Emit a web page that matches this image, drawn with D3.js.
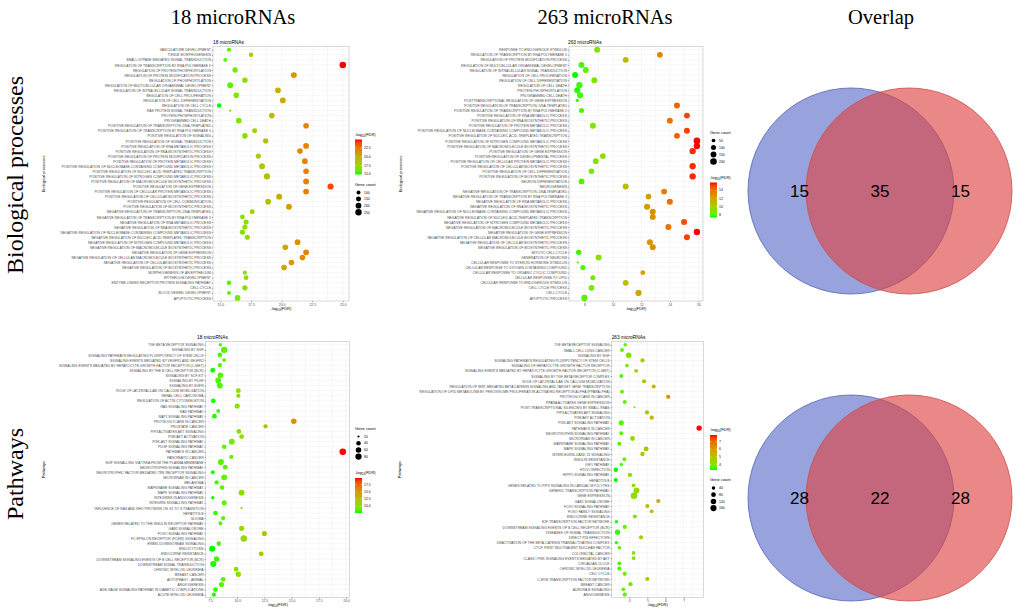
<!DOCTYPE html>
<html>
<head>
<meta charset="utf-8">
<script src="https://cdn.jsdelivr.net/npm/d3@7"></script>
<style>
  body { margin: 0; background: #fff; }
  svg { display: block; }
</style>
</head>
<body>
<svg id="chart" width="1020" height="614"></svg>
<script>
// ---- biological processes, 18 microRNAs ----
const bp18Cats = ["VASCULATURE DEVELOPMENT","TISSUE MORPHOGENESIS","SMALL GTPASE MEDIATED SIGNAL TRANSDUCTION","REGULATION OF TRANSCRIPTION BY RNA POLYMERASE II","REGULATION OF PROTEIN PHOSPHORYLATION","REGULATION OF PROTEIN MODIFICATION PROCESS","REGULATION OF PHOSPHORYLATION","REGULATION OF MULTICELLULAR ORGANISMAL DEVELOPMENT","REGULATION OF INTRACELLULAR SIGNAL TRANSDUCTION","REGULATION OF CELL PROLIFERATION","REGULATION OF CELL DIFFERENTIATION","REGULATION OF CELL CYCLE","RAS PROTEIN SIGNAL TRANSDUCTION","PROTEIN PHOSPHORYLATION","PROGRAMMED CELL DEATH","POSITIVE REGULATION OF TRANSCRIPTION, DNA-TEMPLATED","POSITIVE REGULATION OF TRANSCRIPTION BY RNA POLYMERASE II","POSITIVE REGULATION OF SIGNALING","POSITIVE REGULATION OF SIGNAL TRANSDUCTION","POSITIVE REGULATION OF RNA METABOLIC PROCESS","POSITIVE REGULATION OF RNA BIOSYNTHETIC PROCESS","POSITIVE REGULATION OF PROTEIN MODIFICATION PROCESS","POSITIVE REGULATION OF PROTEIN METABOLIC PROCESS","POSITIVE REGULATION OF NUCLEOBASE-CONTAINING COMPOUND METABOLIC PROCESS","POSITIVE REGULATION OF NUCLEIC ACID-TEMPLATED TRANSCRIPTION","POSITIVE REGULATION OF NITROGEN COMPOUND METABOLIC PROCESS","POSITIVE REGULATION OF MACROMOLECULE BIOSYNTHETIC PROCESS","POSITIVE REGULATION OF GENE EXPRESSION","POSITIVE REGULATION OF CELLULAR PROTEIN METABOLIC PROCESS","POSITIVE REGULATION OF CELLULAR BIOSYNTHETIC PROCESS","POSITIVE REGULATION OF CELL COMMUNICATION","POSITIVE REGULATION OF BIOSYNTHETIC PROCESS","NEGATIVE REGULATION OF TRANSCRIPTION, DNA-TEMPLATED","NEGATIVE REGULATION OF TRANSCRIPTION BY RNA POLYMERASE II","NEGATIVE REGULATION OF RNA METABOLIC PROCESS","NEGATIVE REGULATION OF RNA BIOSYNTHETIC PROCESS","NEGATIVE REGULATION OF NUCLEOBASE-CONTAINING COMPOUND METABOLIC PROCESS","NEGATIVE REGULATION OF NUCLEIC ACID-TEMPLATED TRANSCRIPTION","NEGATIVE REGULATION OF NITROGEN COMPOUND METABOLIC PROCESS","NEGATIVE REGULATION OF MACROMOLECULE BIOSYNTHETIC PROCESS","NEGATIVE REGULATION OF GENE EXPRESSION","NEGATIVE REGULATION OF CELLULAR MACROMOLECULE BIOSYNTHETIC PROCESS","NEGATIVE REGULATION OF CELLULAR BIOSYNTHETIC PROCESS","NEGATIVE REGULATION OF BIOSYNTHETIC PROCESS","MORPHOGENESIS OF AN EPITHELIUM","EPITHELIUM DEVELOPMENT","ENZYME LINKED RECEPTOR PROTEIN SIGNALING PATHWAY","CELL CYCLE","BLOOD VESSEL DEVELOPMENT","APOPTOTIC PROCESS"];
const bp18Fdr = [15.7,17.5,15.4,25.0,16.2,21.0,17.0,15.8,19.7,16.3,20.1,14.9,15.8,19.2,16.5,22.0,17.8,17.0,18.7,22.0,21.5,18.1,21.9,18.4,22.0,18.8,22.0,24.0,22.0,19.8,18.9,20.6,17.6,16.8,17.1,17.0,16.8,17.2,21.3,20.3,22.0,21.7,20.8,20.2,17.0,17.1,15.7,17.0,15.7,16.4];
const bp18Count = [110,120,100,270,170,210,180,210,200,190,200,130,70,190,190,190,150,190,170,200,190,160,200,210,190,230,210,230,200,210,200,210,150,140,160,160,170,155,200,190,200,190,190,190,110,140,130,170,100,200];

// ---- biological processes, 263 microRNAs ----
const bp263Cats = ["RESPONSE TO ENDOGENOUS STIMULUS","REGULATION OF TRANSCRIPTION BY RNA POLYMERASE II","REGULATION OF PROTEIN MODIFICATION PROCESS","REGULATION OF MULTICELLULAR ORGANISMAL DEVELOPMENT","REGULATION OF INTRACELLULAR SIGNAL TRANSDUCTION","REGULATION OF CELL PROLIFERATION","REGULATION OF CELL DIFFERENTIATION","REGULATION OF CELL DEATH","PROTEIN PHOSPHORYLATION","PROGRAMMED CELL DEATH","POSTTRANSCRIPTIONAL REGULATION OF GENE EXPRESSION","POSITIVE REGULATION OF TRANSCRIPTION, DNA-TEMPLATED","POSITIVE REGULATION OF TRANSCRIPTION BY RNA POLYMERASE II","POSITIVE REGULATION OF RNA METABOLIC PROCESS","POSITIVE REGULATION OF RNA BIOSYNTHETIC PROCESS","POSITIVE REGULATION OF PROTEIN METABOLIC PROCESS","POSITIVE REGULATION OF NUCLEOBASE-CONTAINING COMPOUND METABOLIC PROCESS","POSITIVE REGULATION OF NUCLEIC ACID-TEMPLATED TRANSCRIPTION","POSITIVE REGULATION OF NITROGEN COMPOUND METABOLIC PROCESS","POSITIVE REGULATION OF MACROMOLECULE BIOSYNTHETIC PROCESS","POSITIVE REGULATION OF GENE EXPRESSION","POSITIVE REGULATION OF DEVELOPMENTAL PROCESS","POSITIVE REGULATION OF CELLULAR PROTEIN METABOLIC PROCESS","POSITIVE REGULATION OF CELLULAR BIOSYNTHETIC PROCESS","POSITIVE REGULATION OF CELL DIFFERENTIATION","POSITIVE REGULATION OF BIOSYNTHETIC PROCESS","NEURON DIFFERENTIATION","NEUROGENESIS","NEGATIVE REGULATION OF TRANSCRIPTION, DNA-TEMPLATED","NEGATIVE REGULATION OF TRANSCRIPTION BY RNA POLYMERASE II","NEGATIVE REGULATION OF RNA METABOLIC PROCESS","NEGATIVE REGULATION OF RNA BIOSYNTHETIC PROCESS","NEGATIVE REGULATION OF NUCLEOBASE-CONTAINING COMPOUND METABOLIC PROCESS","NEGATIVE REGULATION OF NUCLEIC ACID-TEMPLATED TRANSCRIPTION","NEGATIVE REGULATION OF NITROGEN COMPOUND METABOLIC PROCESS","NEGATIVE REGULATION OF MACROMOLECULE BIOSYNTHETIC PROCESS","NEGATIVE REGULATION OF GENE EXPRESSION","NEGATIVE REGULATION OF CELLULAR MACROMOLECULE BIOSYNTHETIC PROCESS","NEGATIVE REGULATION OF CELLULAR BIOSYNTHETIC PROCESS","NEGATIVE REGULATION OF BIOSYNTHETIC PROCESS","MITOTIC CELL CYCLE","GENERATION OF NEURONS","CELLULAR RESPONSE TO STEROID HORMONE STIMULUS","CELLULAR RESPONSE TO OXYGEN-CONTAINING COMPOUND","CELLULAR RESPONSE TO ORGANIC CYCLIC COMPOUND","CELLULAR RESPONSE TO LIPID","CELLULAR RESPONSE TO ENDOGENOUS STIMULUS","CELL CYCLE PROCESS","CELL CYCLE","APOPTOTIC PROCESS"];
const bp263Fdr = [8.9,13.3,10.9,7.8,8.1,7.35,8.7,7.65,7.5,7.7,7.5,14.5,7.8,15.2,14.0,8.6,15.2,14.5,15.9,15.9,15.6,9.3,8.8,15.6,8.5,15.6,7.8,10.9,13.6,12.5,14.0,12.4,12.8,12.8,15.0,13.9,15.9,15.2,12.6,12.8,7.6,9.0,7.55,7.9,12.1,8.6,10.9,8.5,11.8,8.0];
const bp263Count = [150,140,150,150,150,150,150,170,160,170,40,150,100,150,150,150,160,150,200,180,180,140,140,180,130,180,140,150,150,130,160,160,160,150,160,160,190,160,160,160,120,160,30,110,90,100,140,140,170,170];

// ---- pathways, 18 microRNAs ----
const pw18Cats = ["TGF-BETA RECEPTOR SIGNALING","SIGNALING BY NGF","SIGNALING PATHWAYS REGULATING PLURIPOTENCY OF STEM CELLS","SIGNALING EVENTS MEDIATED BY VEGFR1 AND VEGFR2","SIGNALING EVENTS MEDIATED BY HEPATOCYTE GROWTH FACTOR RECEPTOR (C-MET)","SIGNALING BY THE B CELL RECEPTOR (BCR)","SIGNALING BY SCF-KIT","SIGNALING BY PDGF","SIGNALING BY EGFR","ROLE OF LAT2/NTAL/LAB ON CALCIUM MOBILIZATION","RENAL CELL CARCINOMA","REGULATION OF ACTIN CYTOSKELETON","RAS SIGNALING PATHWAY","RAS PATHWAY","RAP1 SIGNALING PATHWAY","PROTEOGLYCANS IN CANCER","PROSTATE CANCER","PIP3 ACTIVATES AKT SIGNALING","PI3K/AKT ACTIVATION","PI3K-AKT SIGNALING PATHWAY","PDGF SIGNALING PATHWAY","PATHWAYS IN CANCER","PANCREATIC CANCER","NGF SIGNALLING VIA TRKA FROM THE PLASMA MEMBRANE","NEUROTROPHIN SIGNALING PATHWAY","NEUROTROPHIC FACTOR-MEDIATED TRK RECEPTOR SIGNALING","MICRORNAS IN CANCER","MELANOMA","MAPKINASE SIGNALING PATHWAY","MAPK SIGNALING PATHWAY","INTEGRINS IN ANGIOGENESIS","INTEGRIN SIGNALLING PATHWAY","INFLUENCE OF RAS AND RHO PROTEINS ON G1 TO S TRANSITION","HEPATITIS B","GLIOMA","GENES RELATED TO THE INSULIN RECEPTOR PATHWAY","GAB1 SIGNALOSOME","FOXO SIGNALING PATHWAY","FC EPSILON RECEPTOR (FCERI) SIGNALING","ERBB1 DOWNSTREAM SIGNALING","ENDOCYTOSIS","ENDOCRINE RESISTANCE","DOWNSTREAM SIGNALING EVENTS OF B CELL RECEPTOR (BCR)","DOWNSTREAM SIGNAL TRANSDUCTION","CHRONIC MYELOID LEUKEMIA","BREAST CANCER","AUTOPHAGY - ANIMAL","ANGIOGENESIS","AGE-RAGE SIGNALING PATHWAY IN DIABETIC COMPLICATIONS","ACUTE MYELOID LEUKEMIA"];
const pw18Fdr = [8.45,8.8,8.4,8.8,8.4,7.75,8.45,8.25,8.4,10.1,10.1,7.8,10.0,8.25,7.9,15.2,12.6,10.15,10.4,9.5,8.8,19.7,9.45,8.5,8.9,7.75,8.8,8.1,8.6,10.4,7.75,8.8,10.4,8.0,8.7,8.45,10.4,12.5,10.6,8.3,7.7,12.2,8.1,7.8,9.9,10.1,8.7,8.55,8.0,7.85];
const pw18Count = [25,85,45,30,35,45,60,65,65,45,35,45,50,30,45,60,35,45,45,70,40,90,35,70,45,30,70,35,40,65,25,50,20,45,35,30,50,50,85,40,75,45,55,75,40,55,45,50,45,35];

// ---- pathways, 263 microRNAs ----
const pw263Cats = ["TGF-BETA RECEPTOR SIGNALING","SMALL CELL LUNG CANCER","SIGNALING BY NGF","SIGNALING PATHWAYS REGULATING PLURIPOTENCY OF STEM CELLS","SIGNALING OF HEPATOCYTE GROWTH FACTOR RECEPTOR","SIGNALING EVENTS MEDIATED BY HEPATOCYTE GROWTH FACTOR RECEPTOR (C-MET)","SIGNALING BY TGF-BETA RECEPTOR COMPLEX","ROLE OF LAT2/NTAL/LAB ON CALCIUM MOBILIZATION","REGULATION OF WNT-MEDIATED BETA CATENIN SIGNALING AND TARGET GENE TRANSCRIPTION","REGULATION OF LIPID METABOLISM BY PEROXISOME PROLIFERATOR-ACTIVATED RECEPTOR ALPHA (PPARALPHA)","PROTEOGLYCANS IN CANCER","PPARA ACTIVATES GENE EXPRESSION","POST-TRANSCRIPTIONAL SILENCING BY SMALL RNAS","PIP3 ACTIVATES AKT SIGNALING","PI3K/AKT ACTIVATION","PI3K-AKT SIGNALING PATHWAY","PATHWAYS IN CANCER","NEUROTROPHIN SIGNALING PATHWAY","MICRORNAS IN CANCER","MAPKINASE SIGNALING PATHWAY","MAPK SIGNALING PATHWAY","INTERLEUKIN-4 AND 13 SIGNALING","INSULIN RESISTANCE","IGF1 PATHWAY","HTLV-I INFECTION","HIPPO SIGNALING PATHWAY","HEPATITIS B","GENES RELATED TO PIP3 SIGNALING IN CARDIAC MYOCYTES","GENERIC TRANSCRIPTION PATHWAY","GENE EXPRESSION","GAB1 SIGNALOSOME","FOXO SIGNALING PATHWAY","FOXO FAMILY SIGNALING","ENDOCRINE RESISTANCE","E2F TRANSCRIPTION FACTOR NETWORK","DOWNSTREAM SIGNALING EVENTS OF B CELL RECEPTOR (BCR)","DISEASES OF SIGNAL TRANSDUCTION","DIRECT P53 EFFECTORS","DEACTIVATION OF THE BETA-CATENIN TRANSACTIVATING COMPLEX","CTCF: FIRST MULTIVALENT NUCLEAR FACTOR","COLORECTAL CANCER","CLASS I PI3K SIGNALING EVENTS MEDIATED BY AKT","CIRCADIAN CLOCK","CHRONIC MYELOID LEUKEMIA","CELL CYCLE","C-MYB TRANSCRIPTION FACTOR NETWORK","BREAST CANCER","AURORA B SIGNALING","ANGIOGENESIS"];
const pw263Fdr = [3.78,3.6,3.97,4.73,3.87,4.38,3.56,4.82,5.35,3.6,6.15,3.75,4.29,4.98,5.24,3.56,7.86,3.56,4.18,3.45,4.93,4.73,3.73,3.56,3.26,4.04,3.26,4.24,4.4,4.26,5.6,5.0,5.24,4.31,3.29,3.75,3.35,4.65,3.29,3.45,4.24,4.24,3.45,3.45,3.75,5.0,4.07,3.67,3.75];
const pw263Count = [40,50,120,60,40,50,50,60,50,50,60,55,25,60,60,100,110,50,90,50,90,70,50,35,70,60,60,45,140,190,55,60,45,55,40,60,100,55,35,40,45,45,50,50,60,55,60,45,60];

// ---- overlap counts (only in 18, shared, only in 263) ----
const vennBP = [15, 35, 15];
const vennPW = [28, 22, 28];

const colHeaders = ["18 microRNAs", "263 microRNAs", "Overlap"];
const rowHeaders = ["Biological processes", "Pathways"];

const svg = d3.select("#chart");
const sans = "'Liberation Sans', Arial, sans-serif";
const serif = "'Liberation Serif', 'Times New Roman', serif";

function fdrLabel(sel, size) {
    sel.append("tspan").text("-log");
    sel.append("tspan").attr("dy", size * 0.3).attr("font-size", size * 0.7).text("10");
    sel.append("tspan").attr("dy", -size * 0.3).text("(FDR)");
}

function dotPlot(cfg) {
    const g = svg.append("g");
    const b = cfg.box;
    const ext = d3.extent(cfg.fdr);
    const pad = (ext[1] - ext[0]) * 0.05;
    const x = d3.scaleLinear().domain([ext[0] - pad, ext[1] + pad]).range([b.x0, b.x1]);
    const y = d3.scalePoint().domain(cfg.cats).range([b.y0, b.y1]).padding(0.6);
    const color = d3.scaleLinear().domain(ext).range(["#00ff00", "#ff0000"]).interpolate(d3.interpolateLab);
    const cExt = d3.extent(cfg.counts);
    const size = v => 1.1 + 2.2 * Math.sqrt(Math.max(0, (v - cExt[0]) / (cExt[1] - cExt[0])));

    g.append("rect")
        .attr("x", b.x0).attr("y", b.y0)
        .attr("width", b.x1 - b.x0).attr("height", b.y1 - b.y0)
        .attr("fill", "#fff");

    // grid
    const step = cfg.xTicks[1] - cfg.xTicks[0];
    const minor = cfg.xTicks.map(t => t - step / 2).concat([cfg.xTicks[cfg.xTicks.length - 1] + step / 2])
        .filter(t => x(t) > b.x0 && x(t) < b.x1);
    g.append("g").selectAll("line")
        .data(cfg.cats.map(c => y(c)).concat(cfg.xTicks.map(x), minor.map(x)))
        .enter().append("line")
        .attr("x1", (d, i) => i < cfg.cats.length ? b.x0 : d)
        .attr("x2", (d, i) => i < cfg.cats.length ? b.x1 : d)
        .attr("y1", (d, i) => i < cfg.cats.length ? d : b.y0)
        .attr("y2", (d, i) => i < cfg.cats.length ? d : b.y1)
        .attr("stroke", "#dcdcdc")
        .attr("stroke-width", 0.4)
        .attr("stroke-dasharray", "1,0.8");

    g.append("rect")
        .attr("x", b.x0).attr("y", b.y0)
        .attr("width", b.x1 - b.x0).attr("height", b.y1 - b.y0)
        .attr("fill", "none").attr("stroke", "#b3b3b3").attr("stroke-width", 0.5);

    // axes
    const xa = g.append("g")
        .attr("transform", `translate(0,${b.y1})`)
        .call(d3.axisBottom(x).tickValues(cfg.xTicks).tickFormat(cfg.fmt).tickSize(1.3).tickPadding(0.8));
    const ya = g.append("g")
        .attr("transform", `translate(${b.x0},0)`)
        .call(d3.axisLeft(y).tickSize(1.3).tickPadding(0.8));
    [xa, ya].forEach(a => {
        a.select(".domain").remove();
        a.selectAll("line").attr("stroke", "#333").attr("stroke-width", 0.4);
        a.selectAll("text").attr("font-size", 3.4).attr("font-family", sans).attr("fill", "#4d4d4d");
    });

    // points
    g.append("g").selectAll("circle")
        .data(cfg.cats)
        .enter().append("circle")
        .attr("cx", (d, i) => x(cfg.fdr[i]))
        .attr("cy", d => y(d))
        .attr("r", (d, i) => size(cfg.counts[i]))
        .attr("fill", (d, i) => color(cfg.fdr[i]));

    // titles
    g.append("text").attr("x", cfg.titleX).attr("y", b.y0 - 3)
        .attr("font-family", sans).attr("font-size", 4.8).text(cfg.title);
    g.append("text").attr("x", (b.x0 + b.x1) / 2).attr("y", b.y1 + 8.5)
        .attr("text-anchor", "middle").attr("font-family", sans).attr("font-size", 4)
        .call(fdrLabel, 4);
    g.append("text")
        .attr("transform", `translate(${cfg.yTitleX},${(b.y0 + b.y1) / 2}) rotate(-90)`)
        .attr("text-anchor", "middle").attr("font-family", sans).attr("font-size", 4)
        .text(cfg.yTitle);

    // legends
    const L = cfg.legend;
    const lg = g.append("g").attr("font-family", sans);

    // colour bar
    const gid = "grad" + cfg.id;
    const grad = svg.append("defs").append("linearGradient").attr("id", gid)
        .attr("x1", 0).attr("y1", 1).attr("x2", 0).attr("y2", 0);
    d3.range(0, 1.0001, 0.1).forEach(t => {
        grad.append("stop").attr("offset", t).attr("stop-color", color(ext[0] + t * (ext[1] - ext[0])));
    });
    lg.append("text").attr("x", L.x).attr("y", L.cTop - 4).attr("font-size", 4).call(fdrLabel, 4);
    const cb = d3.scaleLinear().domain(ext).range([L.cTop + 35, L.cTop]);
    lg.append("rect").attr("x", L.x).attr("y", L.cTop).attr("width", 7).attr("height", 35)
        .attr("fill", `url(#${gid})`);
    lg.selectAll(".cbt").data(cfg.cTicks).enter().append("g").each(function(t) {
        const s = d3.select(this);
        s.append("line").attr("x1", L.x).attr("x2", L.x + 1.5).attr("y1", cb(t)).attr("y2", cb(t))
            .attr("stroke", "#fff").attr("stroke-width", 0.4);
        s.append("line").attr("x1", L.x + 5.5).attr("x2", L.x + 7).attr("y1", cb(t)).attr("y2", cb(t))
            .attr("stroke", "#fff").attr("stroke-width", 0.4);
        s.append("text").attr("x", L.x + 9).attr("y", cb(t) + 1.2).attr("font-size", 3.4)
            .text(cfg.fmt(t));
    });

    // size legend
    lg.append("text").attr("x", L.x).attr("y", L.sTop - 4).attr("font-size", 4).text("Gene count");
    cfg.sizeKeys.forEach((k, i) => {
        const cy = L.sTop + 3 + i * L.sStep;
        lg.append("circle").attr("cx", L.x + 3.5).attr("cy", cy).attr("r", size(k)).attr("fill", "#000");
        lg.append("text").attr("x", L.x + 9).attr("y", cy + 1.2).attr("font-size", 3.4).text(k);
    });
}

const f1 = d3.format(".1f"), f0 = d3.format("d");

dotPlot({id: 1, cats: bp18Cats, fdr: bp18Fdr, counts: bp18Count,
    box: {x0: 213, x1: 349, y0: 46.7, y1: 301}, title: "18 microRNAs", titleX: 213,
    yTitle: "Biological processes", yTitleX: 45, xTicks: [15, 17.5, 20, 22.5, 25], fmt: f1,
    cTicks: [15, 17.5, 20, 22.5], sizeKeys: [100, 150, 200, 250],
    legend: {x: 355, cTop: 139.5, sTop: 189.5, sStep: 6.6}});

dotPlot({id: 2, cats: bp263Cats, fdr: bp263Fdr, counts: bp263Count,
    box: {x0: 569, x1: 703, y0: 46.7, y1: 301}, title: "263 microRNAs", titleX: 568,
    yTitle: "Biological processes", yTitleX: 402, xTicks: [8, 10, 12, 14, 16], fmt: f0,
    cTicks: [8, 10, 12, 14], sizeKeys: [50, 100, 150, 200],
    legend: {x: 710, cTop: 182.5, sTop: 137.5, sStep: 7}});

dotPlot({id: 3, cats: pw18Cats, fdr: pw18Fdr, counts: pw18Count,
    box: {x0: 205.7, x1: 349.3, y0: 341.7, y1: 597.7}, title: "18 microRNAs", titleX: 197,
    yTitle: "Pathways", yTitleX: 45, xTicks: [7.5, 10, 12.5, 15, 17.5, 20], fmt: f1,
    cTicks: [10, 12.5, 15, 17.5], sizeKeys: [20, 40, 60, 80],
    legend: {x: 355, cTop: 478, sTop: 433.5, sStep: 6.7}});

dotPlot({id: 4, cats: pw263Cats, fdr: pw263Fdr, counts: pw263Count,
    box: {x0: 611.7, x1: 703.3, y0: 341.7, y1: 597.7}, title: "263 microRNAs", titleX: 611.7,
    yTitle: "Pathways", yTitleX: 401, xTicks: [4, 5, 6, 7], fmt: f0,
    cTicks: [4, 5, 6, 7], sizeKeys: [40, 80, 120, 160],
    legend: {x: 710, cTop: 435, sTop: 485, sStep: 6.7}});

// ---- Venn diagrams ----
function venn(cy, counts) {
    const r = 103, cx = 880, sep = 29;
    const g = svg.append("g");
    g.append("circle").attr("cx", cx - sep).attr("cy", cy).attr("r", r)
        .attr("fill", "rgb(84,100,198)").attr("fill-opacity", 0.6)
        .attr("stroke", "#5565b5").attr("stroke-width", 0.8);
    g.append("circle").attr("cx", cx + sep).attr("cy", cy).attr("r", r)
        .attr("fill", "rgb(222,66,66)").attr("fill-opacity", 0.63)
        .attr("stroke", "#cc4e4e").attr("stroke-width", 0.8);
    const lx = [cx - sep - r / 2, cx, cx + sep + r / 2];
    g.selectAll("text").data(counts).enter().append("text")
        .attr("x", (d, i) => lx[i]).attr("y", cy + 6)
        .attr("text-anchor", "middle").attr("font-family", sans).attr("font-size", 17)
        .text(d => d);
}
venn(191, vennBP);
venn(498, vennPW);

// ---- headers ----
svg.selectAll(".colh").data(colHeaders).enter().append("text")
    .attr("x", (d, i) => [233, 605, 881][i]).attr("y", 24)
    .attr("text-anchor", "middle").attr("font-family", serif).attr("font-size", 20.5)
    .text(d => d);
svg.selectAll(".rowh").data(rowHeaders).enter().append("text")
    .attr("transform", (d, i) => `translate(23,${[175, 474][i]}) rotate(-90)`)
    .attr("text-anchor", "middle").attr("font-family", serif).attr("font-size", 24)
    .text(d => d);
</script>
</body>
</html>
